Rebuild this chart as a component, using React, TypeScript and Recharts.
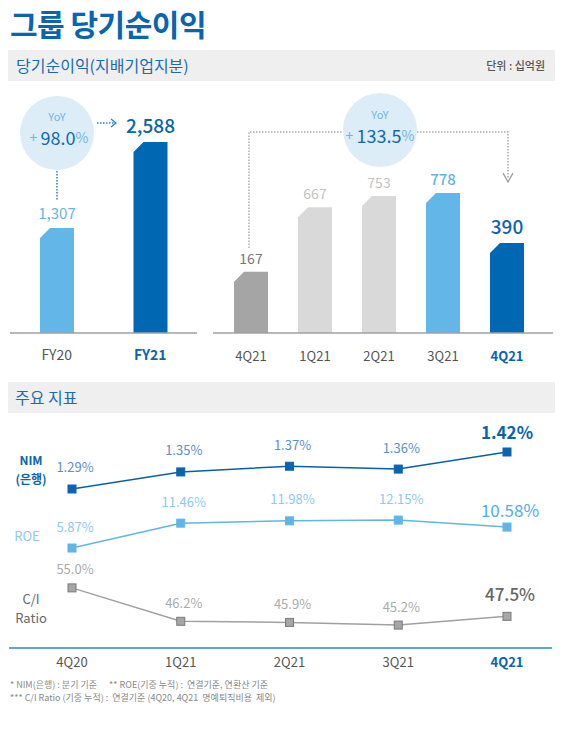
import React from "react";
import { BarChart, Bar, Cell, XAxis, YAxis, LineChart, Line, LabelList } from "recharts";

// 당기순이익 (십억원)
const fyLabels = ["FY20", "FY21"];
const fyValues = [1307, 2588];
const qLabels = ["4Q21", "1Q21", "2Q21", "3Q21", "4Q21"];
const qValues = [167, 667, 753, 778, 390];

// 주요 지표
const kpiQuarters = ["4Q20", "1Q21", "2Q21", "3Q21", "4Q21"];
const nimValues = [1.29, 1.35, 1.37, 1.36, 1.42];
const roeValues = [5.87, 11.46, 11.98, 12.15, 10.58];
const ciValues = [55.0, 46.2, 45.9, 45.2, 47.5];

const yoyFy = "98.0";
const yoyQ = "133.5";

const FONT = '"Noto Sans CJK KR", "Noto Sans", sans-serif';
const BLUE = "#0a64b0";
const LIGHT = "#5fb6e6";

const fyColors = ["#62b7e8", "#0067b2"];
const qColors = ["#a5a5a5", "#d9d9d9", "#d9d9d9", "#62b7e8", "#0067b2"];

const fyData = fyLabels.map((name, i) => ({ name, value: fyValues[i] }));
const qData = qLabels.map((name, i) => ({ name, value: qValues[i] }));
const kpiData = kpiQuarters.map((q, i) => ({ q, nim: nimValues[i], roe: roeValues[i], ci: ciValues[i] }));

// 윗 모서리가 잘린 막대
const ChamferBar = (props: any) => {
  const { x, y, width, height, background, fill } = props;
  const bottom = background ? background.y + background.height : y + height;
  const c = 10;
  const d = `M${x},${y + c} L${x + c},${y} L${x + width},${y} L${x + width},${bottom} L${x},${bottom} Z`;
  return <path d={d} fill={fill} />;
};

const fyLabelStyle = [
  { size: 15, color: "#5fb6e6", weight: 400, off: 15 },
  { size: 19, color: "#0a64b0", weight: 500, off: 18 },
];
const qLabelStyle = [
  { size: 14, color: "#777", weight: 400, off: 14 },
  { size: 14, color: "#c2c2c2", weight: 400, off: 14 },
  { size: 14, color: "#c2c2c2", weight: 400, off: 14 },
  { size: 15, color: "#5fb6e6", weight: 500, off: 14 },
  { size: 19, color: "#0a64b0", weight: 500, off: 17 },
];

const barLabel = (styles: any[]) => (props: any) => {
  const { x, y, width, index, value } = props;
  const st = styles[index];
  return (
    <text x={x + width / 2} y={y - st.off} textAnchor="middle" dominantBaseline="central"
      fontSize={st.size} fontWeight={st.weight} fill={st.color} fontFamily={FONT}>
      {Number(value).toLocaleString("en-US")}
    </text>
  );
};

const makeTick = (count: number, dy: number, size: number) => (props: any) => {
  const { x, y, payload } = props;
  const last = payload.index === count - 1;
  return (
    <text x={x} y={y + dy} textAnchor="middle" dominantBaseline="central" fontSize={size}
      fontWeight={last ? 700 : 400} fill={last ? BLUE : "#555"} fontFamily={FONT}>
      {payload.value}
    </text>
  );
};

const lineLabel = (reg: any, hi: any) => (props: any) => {
  const { x, y, index, value } = props;
  const last = index === kpiQuarters.length - 1;
  const st = last ? hi : reg;
  return (
    <text x={x + st.dx} y={y - st.off} textAnchor="middle" dominantBaseline="central"
      fontSize={st.size} fontWeight={st.weight} fill={st.color} fontFamily={FONT}>
      {Number(value).toFixed(st.digits)}%
    </text>
  );
};

const squareDot = (fill: string, stroke: string) => (props: any) => {
  const { cx, cy, index } = props;
  return <rect key={`d-${index}`} x={cx - 4} y={cy - 4} width={8} height={8} fill={fill} stroke={stroke} strokeWidth={1} />;
};

export default function App() {
  return (
    <div style={{ position: "relative", width: 561, height: 733, background: "#fff", fontFamily: FONT }}>
      <style>{"body{margin:0}"}</style>

      <div style={{ position: "absolute", left: 10, top: 5, fontSize: 30, fontWeight: 700, color: BLUE, lineHeight: "36px", letterSpacing: -0.5 }}>
        그룹 당기순이익
      </div>

      <div style={{ position: "absolute", left: 8, top: 50, width: 547, height: 31, background: "#efefef" }}>
        <span style={{ position: "absolute", left: 8, lineHeight: "31px", fontSize: 16, color: "#1a6bb3" }}>당기순이익(지배기업지분)</span>
        <span style={{ position: "absolute", right: 10, lineHeight: "31px", fontSize: 11, color: "#555", fontWeight: 500 }}>단위 : 십억원</span>
      </div>

      <div style={{ position: "absolute", left: 0, top: 90 }}>
        <BarChart width={210} height={280} data={fyData} margin={{ top: 10, right: 13, left: 10, bottom: 0 }}>
          <XAxis dataKey="name" height={37} tickLine={false} tickSize={0} tickMargin={0}
            axisLine={{ stroke: "#a0a0a0", strokeWidth: 1.5 }} tick={makeTick(fyLabels.length, 21, 14)} interval={0} />
          <YAxis hide domain={[-258, 3214]} />
          <Bar dataKey="value" barSize={34} shape={ChamferBar} isAnimationActive={false}>
            {fyData.map((d, i) => <Cell key={d.name} fill={fyColors[i]} />)}
            <LabelList dataKey="value" content={barLabel(fyLabelStyle)} />
          </Bar>
        </BarChart>
      </div>

      <div style={{ position: "absolute", left: 200, top: 90 }}>
        <BarChart width={361} height={280} data={qData} margin={{ top: 10, right: 8, left: 13, bottom: 0 }}>
          <XAxis dataKey="name" height={37} tickLine={false} tickSize={0} tickMargin={0} padding={{ left: 6, right: 14 }}
            axisLine={{ stroke: "#a0a0a0", strokeWidth: 1.5 }} tick={makeTick(qLabels.length, 22, 13)} interval={0} />
          <YAxis hide domain={[-308, 1498]} />
          <Bar dataKey="value" barSize={34} shape={ChamferBar} isAnimationActive={false}>
            {qData.map((d, i) => <Cell key={i} fill={qColors[i]} />)}
            <LabelList dataKey="value" content={barLabel(qLabelStyle)} />
          </Bar>
        </BarChart>
      </div>

      <div style={{ position: "absolute", left: 8, top: 382, width: 547, height: 31, background: "#efefef" }}>
        <span style={{ position: "absolute", left: 7, lineHeight: "31px", fontSize: 16, color: "#1a6bb3" }}>주요 지표</span>
      </div>

      <div style={{ position: "absolute", left: 0, top: 414 }}>
        <LineChart width={561} height={264} data={kpiData} margin={{ top: 16, right: 9, left: 9, bottom: 0 }}>
          <XAxis dataKey="q" height={30} tickLine={false} tickSize={0} tickMargin={0} padding={{ left: 63, right: 45 }}
            axisLine={{ stroke: "#5fa4d8", strokeWidth: 2 }} tick={makeTick(kpiQuarters.length, 13, 13)} interval={0} />
          <YAxis yAxisId="nim" hide domain={[0.7313, 1.4973]} />
          <YAxis yAxisId="roe" hide domain={[-16.58, 32.38]} />
          <YAxis yAxisId="ci" hide domain={[39.16, 96.62]} />
          <Line yAxisId="nim" dataKey="nim" stroke="#0a5fab" strokeWidth={1.5} dot={squareDot("#0a64b0", "#0a64b0")} isAnimationActive={false}>
            <LabelList dataKey="nim" content={lineLabel(
              { size: 13, weight: 400, color: "#5a8fcf", off: 22, dx: 3, digits: 2 },
              { size: 17, weight: 700, color: "#0a64b0", off: 20, dx: 0, digits: 2 })} />
          </Line>
          <Line yAxisId="roe" dataKey="roe" stroke={LIGHT} strokeWidth={1.5} dot={squareDot(LIGHT, LIGHT)} isAnimationActive={false}>
            <LabelList dataKey="roe" content={lineLabel(
              { size: 13, weight: 400, color: "#8ccaef", off: 22, dx: 3, digits: 2 },
              { size: 17, weight: 400, color: "#4eaee4", off: 18, dx: 3, digits: 2 })} />
          </Line>
          <Line yAxisId="ci" dataKey="ci" stroke="#a0a0a0" strokeWidth={1.5} dot={squareDot("#a6a6a6", "#7a7a7a")} isAnimationActive={false}>
            <LabelList dataKey="ci" content={lineLabel(
              { size: 13, weight: 400, color: "#aaaaaa", off: 19, dx: 3, digits: 1 },
              { size: 17, weight: 500, color: "#666", off: 23, dx: 3, digits: 1 })} />
          </Line>
        </LineChart>
      </div>

      <svg width={561} height={733} style={{ position: "absolute", left: 0, top: 0, pointerEvents: "none" }} fontFamily={FONT}>
        {/* FY YoY */}
        <circle cx={57} cy={133} r={37} fill="#dcedf8" />
        <text x={57} y={116} textAnchor="middle" dominantBaseline="central" fontSize={11} fill="#6fb5e0">YoY</text>
        <text x={59} y={137} textAnchor="middle" dominantBaseline="central" fill="#6fb5e0">
          <tspan fontSize={14}>+ </tspan>
          <tspan fontSize={18} fill="#1168b3">{yoyFy}</tspan>
          <tspan fontSize={14}>%</tspan>
        </text>
        <line x1={57} y1={171} x2={57} y2={201} stroke="#2a7fc4" strokeWidth={1.5} strokeDasharray="1.5 1.5" />
        <line x1={97} y1={123} x2={114} y2={123} stroke="#2a7fc4" strokeWidth={1.5} strokeDasharray="1.5 1.5" />
        <path d="M111,119 L116,123 L111,127" fill="none" stroke="#2a7fc4" strokeWidth={1.3} />

        {/* 4Q YoY */}
        <path d="M249,248 V132 H343 M417,132 H508 V179" fill="none" stroke="#aaa" strokeWidth={1.5} strokeDasharray="1.5 1.5" />
        <path d="M503,173 L508,182 L513,173" fill="none" stroke="#999" strokeWidth={1.3} />
        <circle cx={380} cy={130} r={37} fill="#dcedf8" />
        <text x={380} y={114} textAnchor="middle" dominantBaseline="central" fontSize={11} fill="#6fb5e0">YoY</text>
        <text x={380} y={135} textAnchor="middle" dominantBaseline="central" fill="#6fb5e0">
          <tspan fontSize={14}>+ </tspan>
          <tspan fontSize={18} fill="#1168b3">{yoyQ}</tspan>
          <tspan fontSize={14}>%</tspan>
        </text>

        {/* 지표 이름 */}
        <text x={31} y={459} textAnchor="middle" dominantBaseline="central" fontSize={12} fontWeight={700} fill={BLUE}>NIM</text>
        <text x={31} y={478} textAnchor="middle" dominantBaseline="central" fontSize={12} fontWeight={700} fill={BLUE}>(은행)</text>
        <text x={27} y={535} textAnchor="middle" dominantBaseline="central" fontSize={13} fill="#8ccaef">ROE</text>
        <text x={31} y={598} textAnchor="middle" dominantBaseline="central" fontSize={13} fill="#666">C/I</text>
        <text x={31} y={617} textAnchor="middle" dominantBaseline="central" fontSize={13} fill="#666">Ratio</text>

        <text x={10} y={688} fontSize={9} fill="#888" xmlSpace="preserve">* NIM(은행) : 분기 기준      ** ROE(기중 누적) :  연결기준, 연환산 기준</text>
        <text x={10} y={701} fontSize={9} fill="#888" xmlSpace="preserve">*** C/I Ratio (기중 누적) :  연결기준 (4Q20, 4Q21  명예퇴직비용  제외)</text>
      </svg>
    </div>
  );
}
